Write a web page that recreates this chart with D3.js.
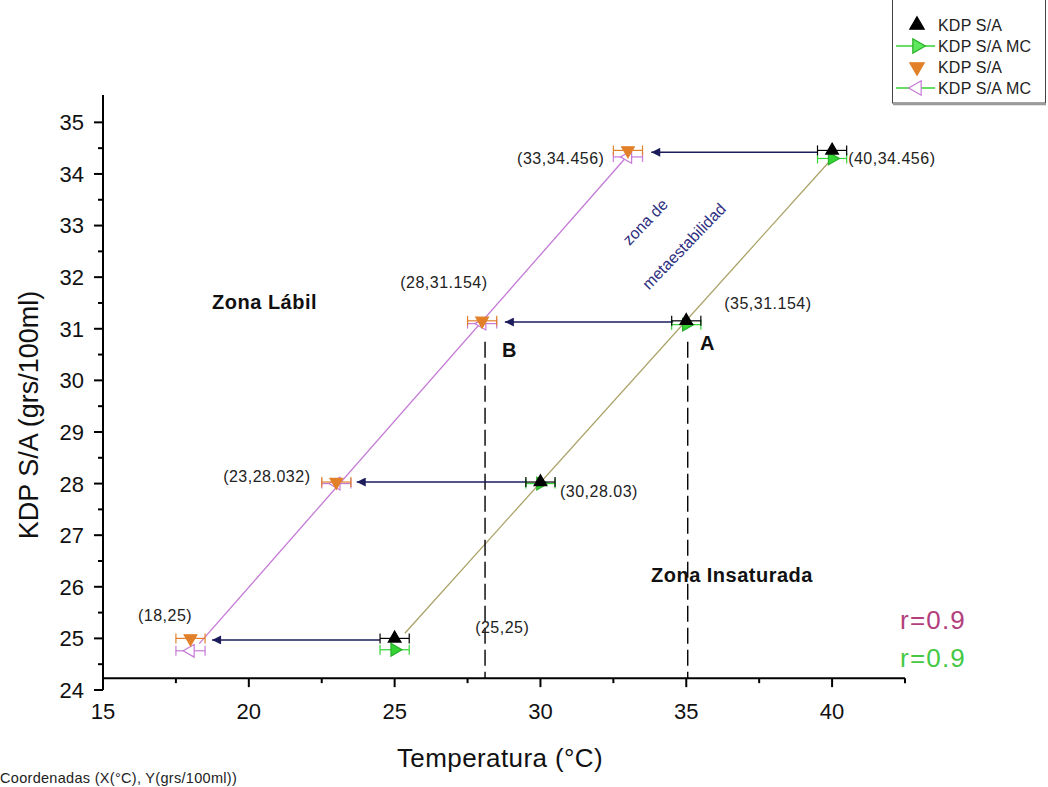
<!DOCTYPE html>
<html>
<head>
<meta charset="utf-8">
<script src="https://cdn.jsdelivr.net/npm/d3@7.9.0/dist/d3.min.js"></script>
<style>
  body { margin: 0; background: #fff; }
  svg { display: block; font-family: "Liberation Sans", Arial, sans-serif; }
</style>
</head>
<body>
<svg id="chart" width="1048" height="787"></svg>
<script>
// data
const satX = [25, 30, 35, 40];
const satY = [25, 28.03, 31.154, 34.456];      // KDP S/A (black)
const satMcY = [24.78, 28.0, 31.08, 34.3];     // KDP S/A MC (green)
const labX = [18, 23, 28, 33];
const labY = [25, 28.03, 31.154, 34.456];      // KDP S/A (orange)
const labMcY = [24.76, 28.0, 31.1, 34.33];     // KDP S/A MC (purple)
const xErr = 0.5;

const satFit = [[25.35, 25.1], [40, 34.3]];
const labFit = [[18.3, 24.9], [32.9, 34.3]];

const arrowFrom = [39.5, 34.55, 29.5, 24.5];
const arrowTo = [33.8, 28.78, 23.7, 18.74];
const arrowY = [34.42, 31.13, 28.03, 24.97];

const dashX = [28.1, 35.05];
const dashTop = 30.75;

const xTicks = [15, 20, 25, 30, 35, 40];
const yTicks = [24, 25, 26, 27, 28, 29, 30, 31, 32, 33, 34, 35];

const coordLabels = [
  { t: '(33,34.456)', x: 29.2, y: 34.31 },
  { t: '(40,34.456)', x: 40.55, y: 34.31 },
  { t: '(28,31.154)', x: 25.19, y: 31.89 },
  { t: '(35,31.154)', x: 36.3, y: 31.5 },
  { t: '(23,28.032)', x: 19.12, y: 28.13 },
  { t: '(30,28.03)', x: 30.67, y: 27.84 },
  { t: '(18,25)', x: 16.2, y: 25.45 },
  { t: '(25,25)', x: 27.76, y: 25.22 },
];

const legendNames = ['KDP S/A', 'KDP S/A MC', 'KDP S/A', 'KDP S/A MC'];

// layout
const svg = d3.select('#chart');
const x = d3.scaleLinear().domain([15, 42.5]).range([103, 905]);
const y = d3.scaleLinear().domain([24, 35.53]).range([690, 95]);
const xAxisAt = 24.23;

const colors = {
  black: '#000',
  green: '#35d435',
  orange: '#e2802a',
  purple: '#c57ad6',
  olive: '#a9a266',
  navy: '#1c1c5c',
};

// fit lines
const line = d3.line().x(d => x(d[0])).y(d => y(d[1]));
svg.append('path').attr('d', line(satFit)).attr('fill', 'none')
  .attr('stroke', colors.olive).attr('stroke-width', 1.3);
svg.append('path').attr('d', line(labFit)).attr('fill', 'none')
  .attr('stroke', colors.purple).attr('stroke-width', 1.3);

// dashed verticals
svg.append('g').selectAll('line').data(dashX).join('line')
  .attr('x1', d => x(d)).attr('x2', d => x(d))
  .attr('y1', y(dashTop)).attr('y2', y(xAxisAt))
  .attr('stroke', '#000').attr('stroke-width', 1.4)
  .attr('stroke-dasharray', '16,6');

// arrows (head drawn at the left end)
svg.append('defs').append('marker')
  .attr('id', 'head').attr('viewBox', '0 0 10 10')
  .attr('refX', 10).attr('refY', 5)
  .attr('markerWidth', 13).attr('markerHeight', 9)
  .attr('markerUnits', 'userSpaceOnUse')
  .attr('orient', 'auto')
  .append('path').attr('d', 'M0,0 L10,5 L0,10 Z').attr('fill', colors.navy);

svg.append('g').selectAll('line').data(arrowY).join('line')
  .attr('x1', (d, i) => x(arrowFrom[i])).attr('x2', (d, i) => x(arrowTo[i]))
  .attr('y1', d => y(d)).attr('y2', d => y(d))
  .attr('stroke', colors.navy).attr('stroke-width', 1.5)
  .attr('marker-end', 'url(#head)');

// error bars + markers
function series(xs, ys, barColor, rot, fill, stroke) {
  const g = svg.append('g');
  const pts = xs.map((v, i) => [v, ys[i]]);
  const eb = g.selectAll('g.eb').data(pts).join('g').attr('class', 'eb');
  eb.append('line')
    .attr('x1', d => x(d[0] - xErr)).attr('x2', d => x(d[0] + xErr))
    .attr('y1', d => y(d[1])).attr('y2', d => y(d[1]))
    .attr('stroke', barColor).attr('stroke-width', 1.2);
  [-xErr, xErr].forEach(o => {
    eb.append('line')
      .attr('x1', d => x(d[0] + o)).attr('x2', d => x(d[0] + o))
      .attr('y1', d => y(d[1]) - 5).attr('y2', d => y(d[1]) + 5)
      .attr('stroke', barColor).attr('stroke-width', 1.2);
  });
  g.selectAll('path').data(pts).join('path')
    .attr('d', d3.symbol(d3.symbolTriangle, 70))
    .attr('transform', d => `translate(${x(d[0])},${y(d[1])}) rotate(${rot})`)
    .attr('fill', fill).attr('stroke', stroke).attr('stroke-width', 1.2);
}
series(satX, satMcY, colors.green, 90, colors.green, '#27b027');
series(satX, satY, colors.black, 0, colors.black, colors.black);
series(labX, labMcY, colors.purple, -90, '#fff', colors.purple);
series(labX, labY, colors.orange, 180, colors.orange, colors.orange);

// axes
const axisG = svg.append('g').attr('stroke', '#000').attr('stroke-width', 2);
axisG.append('line').attr('x1', x(15)).attr('x2', x(42.5))
  .attr('y1', y(xAxisAt)).attr('y2', y(xAxisAt));
axisG.append('line').attr('x1', x(15)).attr('x2', x(15))
  .attr('y1', y(24)).attr('y2', y(35.53));

const xMinor = d3.range(17.5, 43, 5);
axisG.selectAll('.xt').data(xTicks).join('line').attr('class', 'xt')
  .attr('x1', d => x(d)).attr('x2', d => x(d))
  .attr('y1', y(xAxisAt)).attr('y2', y(xAxisAt) + 9);
axisG.selectAll('.xm').data(xMinor).join('line').attr('class', 'xm')
  .attr('x1', d => x(d)).attr('x2', d => x(d))
  .attr('y1', y(xAxisAt)).attr('y2', y(xAxisAt) + 5);

const yMinor = d3.range(24.5, 35.5, 1);
axisG.selectAll('.yt').data(yTicks).join('line').attr('class', 'yt')
  .attr('x1', x(15) - 9).attr('x2', x(15))
  .attr('y1', d => y(d)).attr('y2', d => y(d));
axisG.selectAll('.ym').data(yMinor).join('line').attr('class', 'ym')
  .attr('x1', x(15) - 5).attr('x2', x(15))
  .attr('y1', d => y(d)).attr('y2', d => y(d));

svg.append('g').selectAll('text').data(xTicks).join('text')
  .attr('x', d => x(d)).attr('y', 719)
  .attr('text-anchor', 'middle').attr('font-size', 22).attr('fill', '#111')
  .text(d => d);
svg.append('g').selectAll('text').data(yTicks).join('text')
  .attr('x', 84).attr('y', d => y(d)).attr('dy', '0.36em')
  .attr('text-anchor', 'end').attr('font-size', 22).attr('fill', '#111')
  .text(d => d);

svg.append('text').attr('x', 500).attr('y', 767).attr('text-anchor', 'middle')
  .attr('font-size', 26).attr('letter-spacing', 0.4).attr('fill', '#111')
  .text('Temperatura (°C)');
svg.append('text')
  .attr('transform', `translate(38,${y(29.33)}) rotate(-90)`)
  .attr('text-anchor', 'middle').attr('font-size', 27).attr('fill', '#111')
  .text('KDP S/A (grs/100ml)');

svg.append('text').attr('x', 0).attr('y', 783)
  .attr('font-size', 14.5).attr('letter-spacing', 0.3).attr('fill', '#222')
  .text('Coordenadas (X(°C), Y(grs/100ml))');

// annotations
svg.append('g').selectAll('text').data(coordLabels).join('text')
  .attr('x', d => x(d.x)).attr('y', d => y(d.y)).attr('dy', '0.35em')
  .attr('font-size', 16).attr('letter-spacing', 0.5).attr('fill', '#222')
  .text(d => d.t);

const bold = [
  { t: 'A', x: 35.47, y: 30.72, s: 20 },
  { t: 'B', x: 28.68, y: 30.59, s: 20 },
  { t: 'Zona Lábil', x: 18.74, y: 31.52, s: 20 },
  { t: 'Zona Insaturada', x: 33.79, y: 26.23, s: 20 },
];
svg.append('g').selectAll('text').data(bold).join('text')
  .attr('x', d => x(d.x)).attr('y', d => y(d.y)).attr('dy', '0.35em')
  .attr('font-size', d => d.s).attr('font-weight', 'bold')
  .attr('letter-spacing', 0.5).attr('fill', '#111')
  .text(d => d.t);

const slanted = [
  { t: 'zona de', x: 33.59, y: 33.07 },
  { t: 'metaestabilidad', x: 34.92, y: 32.6 },
];
svg.append('g').selectAll('text').data(slanted).join('text')
  .attr('transform', d => `translate(${x(d.x)},${y(d.y)}) rotate(-46)`)
  .attr('text-anchor', 'middle').attr('dy', '0.35em')
  .attr('font-size', 16).attr('fill', '#2e2e80')
  .text(d => d.t);

svg.append('text').attr('x', x(42.33)).attr('y', y(25.36)).attr('dy', '0.35em')
  .attr('font-size', 26).attr('letter-spacing', 1.2).attr('fill', '#b2407c').text('r=0.9');
svg.append('text').attr('x', x(42.33)).attr('y', y(24.62)).attr('dy', '0.35em')
  .attr('font-size', 26).attr('letter-spacing', 1.2).attr('fill', '#45c945').text('r=0.9');

// legend
const lg = svg.append('g');
lg.append('rect').attr('x', 892.5).attr('y', -2).attr('width', 153).attr('height', 105)
  .attr('fill', '#fff').attr('stroke', '#444').attr('stroke-width', 1);
lg.append('line').attr('x1', 893).attr('x2', 1046).attr('y1', 104.5).attr('y2', 104.5)
  .attr('stroke', '#999').attr('stroke-width', 1.5);
const legSym = [
  { rot: 0, fill: colors.black, stroke: colors.black, line: null },
  { rot: 90, fill: '#5de85d', stroke: '#27b027', line: colors.green },
  { rot: 180, fill: colors.orange, stroke: colors.orange, line: null },
  { rot: -90, fill: '#fff', stroke: colors.purple, line: colors.purple },
];
const rowY = d3.scalePoint().domain(d3.range(4)).range([25, 88]);
const rows = lg.selectAll('g.row').data(legendNames).join('g')
  .attr('transform', (d, i) => `translate(0,${rowY(i)})`);
rows.filter((d, i) => legSym[i].line).append('line')
  .attr('x1', 896).attr('x2', 935).attr('y1', 0).attr('y2', 0)
  .attr('stroke', (d, i, n) => legSym[legendNames.indexOf(d) === 1 ? 1 : 3].line)
  .attr('stroke-width', 1.3);
rows.append('path')
  .attr('d', d3.symbol(d3.symbolTriangle, 90))
  .attr('transform', (d, i) => `translate(917,0) rotate(${legSym[i].rot})`)
  .attr('fill', (d, i) => legSym[i].fill).attr('stroke', (d, i) => legSym[i].stroke)
  .attr('stroke-width', 1.2);
rows.append('text').attr('x', 938).attr('dy', '0.36em')
  .attr('font-size', 16).attr('letter-spacing', 0.2).attr('fill', '#222')
  .text(d => d);
</script>
</body>
</html>
